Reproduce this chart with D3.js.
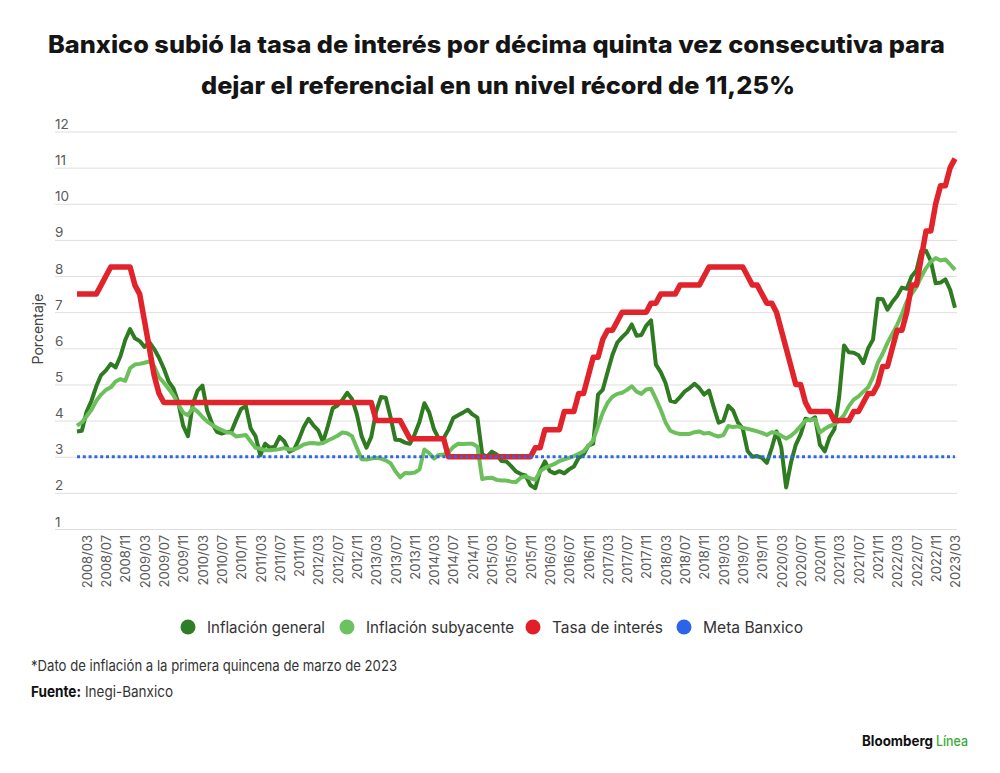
<!DOCTYPE html>
<html>
<head>
<meta charset="utf-8">
<script src="https://cdn.jsdelivr.net/npm/d3@7"></script>
<style>
  body { margin: 0; background: #fff; }
  svg text { font-family: Inter, "Noto Sans", sans-serif; }
</style>
</head>
<body>
<div id="chart"></div>
<script>
// ---- data ------------------------------------------------------------
var months = [
  "2008/01","2008/02","2008/03","2008/04","2008/05","2008/06","2008/07","2008/08","2008/09","2008/10","2008/11","2008/12",
  "2009/01","2009/02","2009/03","2009/04","2009/05","2009/06","2009/07","2009/08","2009/09","2009/10","2009/11","2009/12",
  "2010/01","2010/02","2010/03","2010/04","2010/05","2010/06","2010/07","2010/08","2010/09","2010/10","2010/11","2010/12",
  "2011/01","2011/02","2011/03","2011/04","2011/05","2011/06","2011/07","2011/08","2011/09","2011/10","2011/11","2011/12",
  "2012/01","2012/02","2012/03","2012/04","2012/05","2012/06","2012/07","2012/08","2012/09","2012/10","2012/11","2012/12",
  "2013/01","2013/02","2013/03","2013/04","2013/05","2013/06","2013/07","2013/08","2013/09","2013/10","2013/11","2013/12",
  "2014/01","2014/02","2014/03","2014/04","2014/05","2014/06","2014/07","2014/08","2014/09","2014/10","2014/11","2014/12",
  "2015/01","2015/02","2015/03","2015/04","2015/05","2015/06","2015/07","2015/08","2015/09","2015/10","2015/11","2015/12",
  "2016/01","2016/02","2016/03","2016/04","2016/05","2016/06","2016/07","2016/08","2016/09","2016/10","2016/11","2016/12",
  "2017/01","2017/02","2017/03","2017/04","2017/05","2017/06","2017/07","2017/08","2017/09","2017/10","2017/11","2017/12",
  "2018/01","2018/02","2018/03","2018/04","2018/05","2018/06","2018/07","2018/08","2018/09","2018/10","2018/11","2018/12",
  "2019/01","2019/02","2019/03","2019/04","2019/05","2019/06","2019/07","2019/08","2019/09","2019/10","2019/11","2019/12",
  "2020/01","2020/02","2020/03","2020/04","2020/05","2020/06","2020/07","2020/08","2020/09","2020/10","2020/11","2020/12",
  "2021/01","2021/02","2021/03","2021/04","2021/05","2021/06","2021/07","2021/08","2021/09","2021/10","2021/11","2021/12",
  "2022/01","2022/02","2022/03","2022/04","2022/05","2022/06","2022/07","2022/08","2022/09","2022/10","2022/11","2022/12",
  "2023/01","2023/02","2023/03"
];

var tickLabels = [
  "2008/03","2008/07","2008/11","2009/03","2009/07","2009/11","2010/03","2010/07","2010/11",
  "2011/03","2011/07","2011/11","2012/03","2012/07","2012/11","2013/03","2013/07","2013/11",
  "2014/03","2014/07","2014/11","2015/03","2015/07","2015/11","2016/03","2016/07","2016/11",
  "2017/03","2017/07","2017/11","2018/03","2018/07","2018/11","2019/03","2019/07","2019/11",
  "2020/03","2020/07","2020/11","2021/03","2021/07","2021/11","2022/03","2022/07","2022/11",
  "2023/03"
];

var yTicks = [1, 2, 3, 4, 5, 6, 7, 8, 9, 10, 11, 12];

var inflacionGeneral = [
  3.70, 3.72, 4.25, 4.55, 4.95, 5.26, 5.39, 5.57, 5.47, 5.78, 6.23, 6.53,
  6.28, 6.20, 6.04, 6.17, 5.98, 5.74, 5.44, 5.08, 4.89, 4.50, 3.86, 3.57,
  4.46, 4.83, 4.97, 4.27, 3.92, 3.69, 3.64, 3.68, 3.70, 4.02, 4.32, 4.40,
  3.78, 3.57, 3.04, 3.36, 3.25, 3.28, 3.55, 3.42, 3.14, 3.20, 3.48, 3.82,
  4.05, 3.87, 3.73, 3.41, 3.85, 4.34, 4.42, 4.57, 4.77, 4.60, 4.18, 3.57,
  3.25, 3.55, 4.25, 4.65, 4.63, 4.09, 3.47, 3.46, 3.39, 3.36, 3.62, 3.97,
  4.48, 4.23, 3.76, 3.50, 3.51, 3.75, 4.07, 4.15, 4.22, 4.30, 4.17, 4.08,
  3.07, 3.00, 3.14, 3.06, 2.88, 2.87, 2.74, 2.59, 2.52, 2.48, 2.21, 2.13,
  2.61, 2.87, 2.60, 2.54, 2.60, 2.54, 2.65, 2.73, 2.97, 3.06, 3.31, 3.36,
  4.72, 4.86, 5.35, 5.82, 6.16, 6.31, 6.44, 6.66, 6.35, 6.37, 6.63, 6.77,
  5.55, 5.34, 5.04, 4.55, 4.51, 4.65, 4.81, 4.90, 5.02, 4.90, 4.72, 4.83,
  4.37, 3.94, 4.00, 4.41, 4.28, 3.95, 3.78, 3.16, 3.00, 3.02, 2.97, 2.83,
  3.24, 3.70, 3.25, 2.15, 2.84, 3.33, 3.62, 4.05, 4.01, 4.09, 3.33, 3.15,
  3.54, 3.76, 4.67, 6.08, 5.89, 5.88, 5.81, 5.59, 6.00, 6.24, 7.37, 7.36,
  7.07, 7.28, 7.45, 7.68, 7.65, 7.99, 8.15, 8.70, 8.70, 8.41, 7.80, 7.82,
  7.91, 7.62, 7.12
];

var inflacionSubyacente = [
  3.86, 3.95, 4.12, 4.30, 4.55, 4.72, 4.85, 4.92, 5.08, 5.15, 5.10, 5.45,
  5.55, 5.57, 5.60, 5.64, 5.50, 5.20, 5.05, 4.88, 4.70, 4.45, 4.22, 4.15,
  4.35, 4.25, 4.10, 3.97, 3.88, 3.80, 3.74, 3.68, 3.66, 3.56, 3.58, 3.60,
  3.42, 3.25, 3.22, 3.18, 3.18, 3.19, 3.21, 3.24, 3.20, 3.20, 3.26, 3.34,
  3.37, 3.38, 3.36, 3.38, 3.45, 3.51, 3.58, 3.67, 3.65, 3.57, 3.25, 2.93,
  2.92, 2.95, 2.97, 2.95, 2.90, 2.82, 2.60, 2.43, 2.55, 2.54, 2.56, 2.65,
  3.20, 3.10, 2.95, 3.05, 3.06, 3.12, 3.27, 3.36, 3.35, 3.36, 3.36, 3.28,
  2.38, 2.41, 2.42, 2.36, 2.34, 2.34, 2.31, 2.30, 2.42, 2.46, 2.40, 2.36,
  2.60, 2.69, 2.75, 2.80, 2.88, 2.93, 2.97, 3.02, 3.08, 3.15, 3.30, 3.45,
  3.85, 4.22, 4.50, 4.66, 4.74, 4.77, 4.85, 4.95, 4.80, 4.74, 4.86, 4.88,
  4.60, 4.30, 3.95, 3.72, 3.66, 3.63, 3.63, 3.63, 3.68, 3.70, 3.64, 3.66,
  3.60, 3.56, 3.60, 3.85, 3.82, 3.84, 3.80, 3.77, 3.74, 3.70, 3.66, 3.60,
  3.68, 3.66, 3.58, 3.50, 3.58, 3.70, 3.85, 4.00, 4.02, 4.04, 3.67, 3.77,
  3.85, 3.90, 4.00, 4.15, 4.40, 4.58, 4.67, 4.80, 4.92, 5.20, 5.60, 5.85,
  6.15, 6.40, 6.65, 6.95, 7.30, 7.50, 7.70, 7.98, 8.22, 8.40, 8.50, 8.43,
  8.46, 8.32, 8.17
];

var tasaInteres = [
  7.50, 7.50, 7.50, 7.50, 7.50, 7.75, 8.00, 8.25, 8.25, 8.25, 8.25, 8.25,
  7.75, 7.50, 6.75, 6.00, 5.25, 4.75, 4.50, 4.50, 4.50, 4.50, 4.50, 4.50,
  4.50, 4.50, 4.50, 4.50, 4.50, 4.50, 4.50, 4.50, 4.50, 4.50, 4.50, 4.50,
  4.50, 4.50, 4.50, 4.50, 4.50, 4.50, 4.50, 4.50, 4.50, 4.50, 4.50, 4.50,
  4.50, 4.50, 4.50, 4.50, 4.50, 4.50, 4.50, 4.50, 4.50, 4.50, 4.50, 4.50,
  4.50, 4.50, 4.00, 4.00, 4.00, 4.00, 4.00, 4.00, 3.75, 3.50, 3.50, 3.50,
  3.50, 3.50, 3.50, 3.50, 3.50, 3.00, 3.00, 3.00, 3.00, 3.00, 3.00, 3.00,
  3.00, 3.00, 3.00, 3.00, 3.00, 3.00, 3.00, 3.00, 3.00, 3.00, 3.00, 3.25,
  3.25, 3.75, 3.75, 3.75, 3.75, 4.25, 4.25, 4.25, 4.75, 4.75, 5.25, 5.75,
  5.75, 6.25, 6.50, 6.50, 6.75, 7.00, 7.00, 7.00, 7.00, 7.00, 7.00, 7.25,
  7.25, 7.50, 7.50, 7.50, 7.50, 7.75, 7.75, 7.75, 7.75, 7.75, 8.00, 8.25,
  8.25, 8.25, 8.25, 8.25, 8.25, 8.25, 8.25, 8.00, 7.75, 7.75, 7.50, 7.25,
  7.25, 7.00, 6.50, 6.00, 5.50, 5.00, 5.00, 4.50, 4.25, 4.25, 4.25, 4.25,
  4.25, 4.00, 4.00, 4.00, 4.00, 4.25, 4.25, 4.50, 4.75, 4.75, 5.00, 5.50,
  5.50, 6.00, 6.50, 6.50, 7.00, 7.75, 7.75, 8.50, 9.25, 9.25, 10.00, 10.50,
  10.50, 11.00, 11.25
];

var metaBanxico = 3;

var seriesNames = ["Inflación general", "Inflación subyacente", "Tasa de interés", "Meta Banxico"];

// ---- styles ----------------------------------------------------------
var colors = {
  general: "#2e7b22",
  subyacente: "#6cc05c",
  tasa: "#e1232b",
  meta: "#2d68e6"
};
var legendColors = ["#2f7d24", "#6cc160", "#e21f26", "#2b64ea"];

var width = 1000, height = 773;
var plot = { left: 55, right: 957, top: 131.5, bottom: 529 };

var svg = d3.select("#chart").append("svg")
    .attr("width", width)
    .attr("height", height);

// title (two lines, condensed look)
svg.append("text")
    .attr("x", 48).attr("y", 53)
    .attr("textLength", 897).attr("lengthAdjust", "spacingAndGlyphs")
    .style("font-size", "24px").style("font-weight", 800).style("fill", "#151515")
    .text("Banxico subió la tasa de interés por décima quinta vez consecutiva para");
svg.append("text")
    .attr("x", 201).attr("y", 94)
    .attr("textLength", 594).attr("lengthAdjust", "spacingAndGlyphs")
    .style("font-size", "24px").style("font-weight", 800).style("fill", "#151515")
    .text("dejar el referencial en un nivel récord de 11,25%");

// scales
var x = d3.scalePoint().domain(months).range([77, 955]);
var y = d3.scaleLinear().domain([1, 12]).range([plot.bottom, plot.top]);

// y axis + gridlines
svg.append("g")
    .attr("transform", "translate(" + plot.left + ",0)")
    .call(d3.axisLeft(y)
      .tickValues(yTicks)
      .tickSize(-(plot.right - plot.left))
      .tickFormat(d3.format("d")))
    .call(function(g) { g.select(".domain").remove(); })
    .call(function(g) {
      g.selectAll(".tick line").attr("stroke", "#dedede").attr("stroke-width", 1);
      g.selectAll(".tick text")
        .attr("x", 0).attr("dy", -3)
        .attr("text-anchor", "start")
        .style("font-size", "13.5px")
        .style("fill", "#5a5a5a");
    });

// x axis labels
svg.append("g")
    .attr("transform", "translate(0," + plot.bottom + ")")
    .call(d3.axisBottom(x).tickValues(tickLabels).tickSize(0).tickPadding(0))
    .call(function(g) { g.select(".domain").remove(); })
    .selectAll("text")
      .attr("transform", "rotate(-90)")
      .attr("x", -6).attr("y", 0).attr("dy", "0.36em")
      .attr("text-anchor", "end")
      .style("font-size", "13px")
      .style("fill", "#5a5a5a");

// y axis title
svg.append("text")
    .attr("transform", "translate(43,329) rotate(-90)")
    .attr("text-anchor", "middle")
    .style("font-size", "14px").style("fill", "#444")
    .text("Porcentaje");

// lines
function lineFor(values) {
  return d3.line()
    .x(function(d, i) { return x(months[i]); })
    .y(function(d) { return y(d); })(values);
}

svg.append("path")
    .attr("d", lineFor(inflacionGeneral))
    .attr("fill", "none").attr("stroke", colors.general)
    .attr("stroke-width", 4).attr("stroke-linejoin", "round");

svg.append("path")
    .attr("d", lineFor(inflacionSubyacente))
    .attr("fill", "none").attr("stroke", colors.subyacente)
    .attr("stroke-width", 4).attr("stroke-linejoin", "round");

svg.append("path")
    .attr("d", lineFor(tasaInteres))
    .attr("fill", "none").attr("stroke", colors.tasa)
    .attr("stroke-width", 5.5).attr("stroke-linejoin", "round");

svg.append("line")
    .attr("x1", x(months[0])).attr("x2", x(months[months.length - 1]))
    .attr("y1", y(metaBanxico)).attr("y2", y(metaBanxico))
    .attr("stroke", colors.meta).attr("stroke-width", 3.2)
    .attr("stroke-dasharray", "3 2.8");

// legend
var legendX = [188, 347, 533, 684];
var legendW = [118, 148, 111, 100];
var legend = svg.append("g").attr("transform", "translate(0,627)");
seriesNames.forEach(function(name, i) {
  legend.append("circle")
      .attr("cx", legendX[i]).attr("cy", 0).attr("r", 7.5)
      .attr("fill", legendColors[i]);
  legend.append("text")
      .attr("x", legendX[i] + 19).attr("y", 5.5)
      .attr("textLength", legendW[i]).attr("lengthAdjust", "spacingAndGlyphs")
      .style("font-size", "16px").style("fill", "#333")
      .text(name);
});

// notes
svg.append("text")
    .attr("x", 31).attr("y", 671)
    .attr("textLength", 366).attr("lengthAdjust", "spacingAndGlyphs")
    .style("font-size", "15px").style("fill", "#333")
    .text("*Dato de inflación a la primera quincena de marzo de 2023");
svg.append("text")
    .attr("x", 31).attr("y", 697)
    .attr("textLength", 50).attr("lengthAdjust", "spacingAndGlyphs")
    .style("font-size", "15px").style("font-weight", 700).style("fill", "#111")
    .text("Fuente:");
svg.append("text")
    .attr("x", 85).attr("y", 697)
    .attr("textLength", 88).attr("lengthAdjust", "spacingAndGlyphs")
    .style("font-size", "15px").style("fill", "#333")
    .text("Inegi-Banxico");

// brand
svg.append("text")
    .attr("x", 862).attr("y", 746)
    .attr("textLength", 71).attr("lengthAdjust", "spacingAndGlyphs")
    .style("font-size", "14px").style("font-weight", 700).style("fill", "#111")
    .text("Bloomberg");
svg.append("text")
    .attr("x", 936).attr("y", 746)
    .attr("textLength", 32).attr("lengthAdjust", "spacingAndGlyphs")
    .style("font-size", "14px").style("font-weight", 500).style("fill", "#3aa935")
    .text("Línea");
</script>
</body>
</html>
